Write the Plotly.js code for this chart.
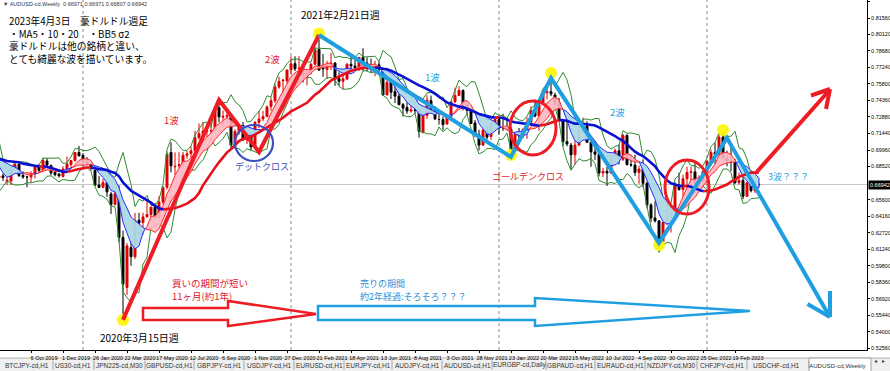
<!DOCTYPE html>
<html><head><meta charset="utf-8">
<script src="https://cdn.plot.ly/plotly-3.0.1.min.js"></script>
<style>html,body{margin:0;padding:0;background:#fff}#chart{width:890px;height:371px}</style>
</head><body><div id="chart"></div>
<script>
// ---------- DATA (AUDUSD weekly) ----------
const dates = [
'2019-05-05','2019-05-12','2019-05-19','2019-05-26','2019-06-02','2019-06-09','2019-06-16','2019-06-23','2019-06-30','2019-07-07','2019-07-14','2019-07-21','2019-07-28','2019-08-04','2019-08-11','2019-08-18','2019-08-25','2019-09-01','2019-09-08','2019-09-15','2019-09-22','2019-09-29','2019-10-06','2019-10-13','2019-10-20','2019-10-27','2019-11-03','2019-11-10','2019-11-17','2019-11-24','2019-12-01','2019-12-08','2019-12-15','2019-12-22','2019-12-29',
'2020-01-05','2020-01-12','2020-01-19','2020-01-26','2020-02-02','2020-02-09','2020-02-16','2020-02-23','2020-03-01','2020-03-08','2020-03-15','2020-03-22','2020-03-29','2020-04-05','2020-04-12','2020-04-19','2020-04-26','2020-05-03','2020-05-10','2020-05-17','2020-05-24','2020-05-31','2020-06-07','2020-06-14','2020-06-21','2020-06-28','2020-07-05','2020-07-12','2020-07-19','2020-07-26','2020-08-02','2020-08-09','2020-08-16','2020-08-23','2020-08-30','2020-09-06','2020-09-13','2020-09-20','2020-09-27','2020-10-04','2020-10-11','2020-10-18','2020-10-25','2020-11-01','2020-11-08','2020-11-15','2020-11-22','2020-11-29','2020-12-06','2020-12-13','2020-12-20','2020-12-27',
'2021-01-03','2021-01-10','2021-01-17','2021-01-24','2021-01-31','2021-02-07','2021-02-14','2021-02-21','2021-02-28','2021-03-07','2021-03-14','2021-03-21','2021-03-28','2021-04-04','2021-04-11','2021-04-18','2021-04-25','2021-05-02','2021-05-09','2021-05-16','2021-05-23','2021-05-30','2021-06-06','2021-06-13','2021-06-20','2021-06-27','2021-07-04','2021-07-11','2021-07-18','2021-07-25','2021-08-01','2021-08-08','2021-08-15','2021-08-22','2021-08-29','2021-09-05','2021-09-12','2021-09-19','2021-09-26','2021-10-03','2021-10-10','2021-10-17','2021-10-24','2021-10-31','2021-11-07','2021-11-14','2021-11-21','2021-11-28','2021-12-05','2021-12-12','2021-12-19','2021-12-26',
'2022-01-02','2022-01-09','2022-01-16','2022-01-23','2022-01-30','2022-02-06','2022-02-13','2022-02-20','2022-02-27','2022-03-06','2022-03-13','2022-03-20','2022-03-27','2022-04-03','2022-04-10','2022-04-17','2022-04-24','2022-05-01','2022-05-08','2022-05-15','2022-05-22','2022-05-29','2022-06-05','2022-06-12','2022-06-19','2022-06-26','2022-07-03','2022-07-10','2022-07-17','2022-07-24','2022-07-31','2022-08-07','2022-08-14','2022-08-21','2022-08-28','2022-09-04','2022-09-11','2022-09-18','2022-09-25','2022-10-02','2022-10-09','2022-10-16','2022-10-23','2022-10-30','2022-11-06','2022-11-13','2022-11-20','2022-11-27','2022-12-04','2022-12-11','2022-12-18','2022-12-25',
'2023-01-01','2023-01-08','2023-01-15','2023-01-22','2023-01-29','2023-02-05','2023-02-12','2023-02-19','2023-02-26','2023-03-05','2023-03-12','2023-03-19','2023-03-26','2023-04-02'];

const open = [
0.7002,0.6995,0.6880,0.6930,0.6945,0.6990,0.6868,0.6940,0.7030,0.6975,0.7020,0.7040,0.6915,0.6780,0.6755,0.6770,0.6720,0.6725,0.6835,0.6870,0.6775,0.6760,0.6760,0.6790,0.6855,0.6820,0.6900,0.6860,0.6800,0.6785,0.6765,0.6830,0.6870,0.6905,0.6975,
0.6950,0.6895,0.6880,0.6820,0.6690,0.6670,0.6710,0.6610,0.6520,0.6600,0.6230,0.5790,0.6140,0.6060,0.6380,0.6360,0.6410,0.6430,0.6495,0.6400,0.6540,0.6670,0.6975,0.6850,0.6860,0.6870,0.6950,0.6965,0.6990,0.7105,0.7140,0.7160,0.7165,0.7170,0.7367,0.7285,0.7290,0.7300,0.7040,0.7160,0.7210,0.7085,0.7135,0.7020,0.7240,0.7270,0.7290,0.7380,0.7430,0.7550,0.7605,0.7605,
0.7700,0.7755,0.7710,0.7715,0.7640,0.7680,0.7750,0.7880,0.7720,0.7705,0.7750,0.7760,0.7625,0.7600,0.7620,0.7750,0.7735,0.7720,0.7810,0.7760,0.7740,0.7710,0.7745,0.7710,0.7480,0.7595,0.7510,0.7470,0.7395,0.7370,0.7340,0.7350,0.7345,0.7150,0.7300,0.7430,0.7355,0.7265,0.7265,0.7225,0.7290,0.7420,0.7475,0.7520,0.7400,0.7345,0.7235,0.7130,0.7040,0.7170,0.7115,0.7230,
0.7265,0.7190,0.7190,0.7180,0.7000,0.7135,0.7120,0.7180,0.7240,0.7340,0.7295,0.7400,0.7500,0.7510,0.7480,0.7415,0.7265,0.7070,0.7040,0.6955,0.7040,0.7165,0.7210,0.7065,0.6980,0.6960,0.6795,0.6810,0.6795,0.6935,0.6990,0.6915,0.7125,0.6870,0.6865,0.6800,0.6830,0.6705,0.6515,0.6400,0.6375,0.6190,0.6360,0.6410,0.6445,0.6690,0.6650,0.6745,0.6800,0.6805,0.6705,0.6725,
0.6810,0.6900,0.6975,0.6960,0.7110,0.6925,0.6905,0.6890,0.6710,0.6730,0.6590,0.6710,0.6640,0.66971];

const high = [
0.7035,0.7000,0.6942,0.6960,0.7020,0.6992,0.6950,0.7030,0.7048,0.7027,0.7082,0.7045,0.6935,0.6810,0.6816,0.6790,0.6760,0.6835,0.6895,0.6895,0.6810,0.6770,0.6810,0.6860,0.6870,0.6930,0.6925,0.6870,0.6835,0.6797,0.6855,0.6940,0.6905,0.6980,0.7032,
0.6970,0.6935,0.6880,0.6820,0.6770,0.6743,0.6720,0.6630,0.6660,0.6686,0.6290,0.6180,0.6190,0.6445,0.6446,0.6446,0.6570,0.6500,0.6530,0.6590,0.6680,0.6985,0.7064,0.6976,0.6977,0.6980,0.6990,0.7030,0.7165,0.7230,0.7243,0.7230,0.7275,0.7375,0.7413,0.7345,0.7345,0.7310,0.7180,0.7210,0.7242,0.7158,0.7150,0.7250,0.7340,0.7340,0.7390,0.7460,0.7580,0.7640,0.7620,0.7700,
0.7820,0.7820,0.7820,0.7735,0.7700,0.7760,0.7900,0.8007,0.7840,0.7780,0.7850,0.7770,0.7680,0.7690,0.7760,0.7815,0.7820,0.7810,0.7891,0.7810,0.7800,0.7780,0.7775,0.7720,0.7615,0.7600,0.7600,0.7510,0.7410,0.7425,0.7425,0.7375,0.7350,0.7320,0.7478,0.7475,0.7380,0.7320,0.7290,0.7310,0.7425,0.7545,0.7556,0.7530,0.7425,0.7370,0.7260,0.7175,0.7185,0.7220,0.7235,0.7277,
0.7280,0.7315,0.7275,0.7200,0.7140,0.7190,0.7180,0.7285,0.7380,0.7440,0.7420,0.7530,0.7540,0.7661,0.7500,0.7455,0.7270,0.7265,0.7060,0.7075,0.7170,0.7283,0.7250,0.7070,0.7070,0.6965,0.6840,0.6850,0.6960,0.7010,0.7045,0.7137,0.7135,0.6955,0.6955,0.6860,0.6915,0.6720,0.6530,0.6547,0.6380,0.6360,0.6520,0.6460,0.6715,0.6798,0.6780,0.6850,0.6850,0.6893,0.6775,0.6800,
0.6905,0.7000,0.7060,0.7142,0.7158,0.6990,0.7030,0.6920,0.6800,0.6785,0.6715,0.6760,0.6740,0.66971];

const low = [
0.6965,0.6865,0.6865,0.6908,0.6940,0.6864,0.6832,0.6935,0.6960,0.6912,0.6985,0.6910,0.6775,0.6677,0.6740,0.6726,0.6690,0.6688,0.6832,0.6760,0.6744,0.6670,0.6710,0.6746,0.6803,0.6810,0.6850,0.6775,0.6765,0.6755,0.6755,0.6810,0.6840,0.6895,0.6940,
0.6850,0.6871,0.6815,0.6680,0.6662,0.6660,0.6585,0.6435,0.6510,0.6186,0.5506,0.5725,0.5980,0.6040,0.6255,0.6254,0.6405,0.6371,0.6400,0.6400,0.6520,0.6650,0.6800,0.6776,0.6835,0.6833,0.6920,0.6920,0.6985,0.7090,0.7110,0.7110,0.7135,0.7160,0.7240,0.7190,0.7245,0.7006,0.7030,0.7130,0.7080,0.7050,0.6991,0.7000,0.7190,0.7250,0.7290,0.7340,0.7410,0.7535,0.7460,0.7580,
0.7660,0.7690,0.7690,0.7590,0.7565,0.7660,0.7740,0.7690,0.7640,0.7620,0.7700,0.7560,0.7560,0.7530,0.7610,0.7700,0.7700,0.7690,0.7690,0.7690,0.7680,0.7645,0.7690,0.7477,0.7480,0.7445,0.7410,0.7390,0.7290,0.7315,0.7325,0.7315,0.7106,0.7145,0.7270,0.7350,0.7260,0.7220,0.7170,0.7220,0.7270,0.7410,0.7470,0.7345,0.7300,0.7230,0.7110,0.6993,0.7035,0.7090,0.7085,0.7210,
0.7130,0.7165,0.7170,0.6967,0.6990,0.7080,0.7100,0.7095,0.7230,0.7285,0.7165,0.7390,0.7440,0.7470,0.7380,0.7250,0.7030,0.7030,0.6829,0.6870,0.7030,0.7140,0.7060,0.6850,0.6910,0.6765,0.6760,0.6681,0.6790,0.6870,0.6870,0.6900,0.6860,0.6850,0.6770,0.6700,0.6670,0.6485,0.6363,0.6360,0.6170,0.6185,0.6340,0.6272,0.6385,0.6640,0.6585,0.6640,0.6670,0.6650,0.6630,0.6690,
0.6690,0.6870,0.6875,0.6955,0.6920,0.6855,0.6810,0.6700,0.6695,0.6564,0.6590,0.6625,0.6620,0.66807];

const close = [
0.7000,0.6866,0.6925,0.6941,0.6990,0.6865,0.6935,0.7020,0.6995,0.7020,0.7045,0.6915,0.6780,0.6760,0.6770,0.6755,0.6732,0.6830,0.6870,0.6774,0.6760,0.6760,0.6790,0.6853,0.6817,0.6905,0.6865,0.6795,0.6780,0.6770,0.6830,0.6875,0.6905,0.6975,0.6946,
0.6896,0.6872,0.6840,0.6688,0.6668,0.6712,0.6629,0.6518,0.6615,0.6230,0.5820,0.6155,0.6060,0.6378,0.6355,0.6410,0.6430,0.6495,0.6400,0.6540,0.6667,0.6960,0.6858,0.6853,0.6868,0.6951,0.6963,0.6990,0.7105,0.7141,0.7163,0.7165,0.7165,0.7367,0.7288,0.7293,0.7300,0.7040,0.7160,0.7210,0.7085,0.7135,0.7025,0.7240,0.7270,0.7290,0.7375,0.7430,0.7550,0.7600,0.7610,0.7700,
0.7755,0.7710,0.7715,0.7650,0.7680,0.7750,0.7877,0.7700,0.7710,0.7750,0.7760,0.7620,0.7600,0.7622,0.7750,0.7735,0.7720,0.7810,0.7760,0.7740,0.7705,0.7745,0.7705,0.7480,0.7590,0.7505,0.7470,0.7395,0.7365,0.7340,0.7350,0.7345,0.7160,0.7305,0.7435,0.7355,0.7270,0.7265,0.7220,0.7290,0.7420,0.7475,0.7520,0.7400,0.7345,0.7230,0.7130,0.7040,0.7170,0.7110,0.7230,0.7265,
0.7190,0.7190,0.7180,0.7000,0.7135,0.7120,0.7180,0.7240,0.7340,0.7295,0.7400,0.7500,0.7510,0.7490,0.7415,0.7265,0.7070,0.7050,0.6955,0.7040,0.7165,0.7210,0.7065,0.6980,0.6960,0.6795,0.6810,0.6795,0.6935,0.6990,0.6915,0.7125,0.6870,0.6865,0.6800,0.6830,0.6705,0.6515,0.6400,0.6375,0.6190,0.6360,0.6410,0.6445,0.6690,0.6650,0.6745,0.6800,0.6805,0.6705,0.6725,0.6810,
0.6900,0.6975,0.6960,0.7110,0.6925,0.6905,0.6890,0.6710,0.6730,0.6590,0.6710,0.6640,0.6690,0.66942];

// wave lines and marked points (hand-drawn on the original chart)
const redWaveDates  = ['2020-03-15','2020-08-30','2020-11-08','2021-02-21'];
const redWavePrices = [0.5506, 0.7436, 0.6980, 0.8007];
const blueWaveDates  = ['2021-02-21','2022-01-23','2022-04-03','2022-10-09','2023-02-05','2023-08-04'];
const blueWavePrices = [0.8007, 0.6936, 0.7629, 0.6181, 0.7102, 0.5531];
const redArrowDates  = ['2023-03-29','2023-08-02'];
const redArrowPrices = [0.6804, 0.7515];
const pivotDates  = ['2020-03-15','2021-02-21','2022-01-23','2022-04-03','2022-10-09','2023-01-29'];
const pivotPrices = [0.5505, 0.8020, 0.6953, 0.7673, 0.6163, 0.7173];

const xTickDates = ['2019-08-11','2019-10-06','2019-12-01','2020-01-26','2020-03-22','2020-05-17','2020-07-12','2020-09-06','2020-11-01','2020-12-27','2021-02-21','2021-04-18','2021-06-13','2021-08-08','2021-10-03','2021-11-28','2022-01-23','2022-03-20','2022-05-15','2022-07-10','2022-09-04','2022-10-30','2022-12-25','2023-02-19'];
const yTickVals = [0.83000,0.81560,0.80120,0.78680,0.77240,0.75800,0.74360,0.72880,0.71440,0.69960,0.68520,0.65600,0.64160,0.62720,0.61240,0.59800,0.58360,0.56920,0.55440,0.54000,0.52560];
const yTickText = ['0.83000','0.81560','0.80120','0.78680','0.77240','0.75800','0.74360','0.72880','0.71440','0.69960','0.68520','0.65600','0.64160','0.62720','0.61240','0.59800','0.58360','0.56920','0.55440','0.54000','0.52560'];
const lastPrice = 0.66942;
const yearStarts = ['2020-01-05','2021-01-03','2022-01-02','2023-01-01'];
const noteLines = ['2023年4月3日　豪ドルドル週足','・MA5・10・20　・BB5 σ2','豪ドルドルは他の銘柄と違い、','とても綺麗な波を描いています。'];
const tabLabels = ['BTCJPY-cd,H1','US30-cd,H1','JPN225-cd,M30','GBPUSD-cd,H1','GBPJPY-cd,H1','USDJPY-cd,H1','EURUSD-cd,H1','EURJPY-cd,H1','AUDJPY-cd,H1','AUDUSD-cd,H1','EURGBP-cd,Daily','GBPAUD-cd,H1','EURAUD-cd,H1','NZDJPY-cd,M30','CHFJPY-cd,H1','USDCHF-cd,H1','AUDUSD-cd,Weekly'];

// ---------- indicators (MA5/10/20, BB 5 2σ) computed from closes ----------
const tms = dates.map(d => Date.parse(d + 'T00:00:00Z'));
function sma(a, n){ return a.map((v,i)=>{ const s=a.slice(Math.max(0,i-n+1),i+1); return s.reduce((p,c)=>p+c,0)/s.length; }); }
function boll(a, n, k){ const up=[], lo=[]; a.forEach((v,i)=>{ const s=a.slice(Math.max(0,i-n+1),i+1); const m=s.reduce((p,c)=>p+c,0)/s.length; const sd=Math.sqrt(s.reduce((p,c)=>p+(c-m)*(c-m),0)/s.length); up.push(m+k*sd); lo.push(m-k*sd); }); return {up, lo}; }
const ma5 = sma(close,5), ma10 = sma(close,10), ma20 = sma(close,20);
const bb = boll(close,5,2);

function cloud(x, a, b){
  const pos={x:[],y:[]}, neg={x:[],y:[]};
  let up=[[x[0],a[0]]], lo=[[x[0],b[0]]], s=a[0]>=b[0];
  const flush = sg => { const t = sg?pos:neg; up.concat(lo.slice().reverse()).forEach(p=>{t.x.push(p[0]); t.y.push(p[1]);}); t.x.push(null); t.y.push(null); };
  for (let i=1;i<x.length;i++){
    const si = a[i]>=b[i];
    if (si===s){ up.push([x[i],a[i]]); lo.push([x[i],b[i]]); }
    else {
      const d0=a[i-1]-b[i-1], d1=a[i]-b[i], t=d0/(d0-d1);
      const cx=x[i-1]+t*(x[i]-x[i-1]), cy=a[i-1]+t*(a[i]-a[i-1]);
      up.push([cx,cy]); lo.push([cx,cy]); flush(s);
      up=[[cx,cy],[x[i],a[i]]]; lo=[[cx,cy],[x[i],b[i]]]; s=si;
    }
  }
  flush(s); return {pos,neg};
}
function slopeSplit(x, y){
  const r={x:[],y:[]}, b={x:[],y:[]}; let prev=null;
  for (let i=1;i<x.length;i++){
    const upw = y[i]>=y[i-1], cur = upw?r:b;
    if (prev!==upw){ if (prev!==null){ const o = upw?b:r; o.x.push(null); o.y.push(null);} cur.x.push(x[i-1]); cur.y.push(y[i-1]); }
    cur.x.push(x[i]); cur.y.push(y[i]); prev=upw;
  }
  return {r,b};
}
const cl = cloud(tms, ma5, ma10);
const m20 = slopeSplit(tms, ma20);

const RED='#ee1c24', LBLUE='#1f9fe2';
const traces = [
  {type:'scatter', mode:'lines', x:tms, y:bb.up, line:{color:'#2e8b2e', width:1}, hoverinfo:'skip'},
  {type:'scatter', mode:'lines', x:tms, y:bb.lo, line:{color:'#2e8b2e', width:1}, hoverinfo:'skip'},
  {type:'scatter', mode:'lines', x:cl.pos.x, y:cl.pos.y, fill:'toself', fillcolor:'rgba(255,182,193,0.9)', line:{color:'#ff2a2a', width:1}, hoverinfo:'skip'},
  {type:'scatter', mode:'lines', x:cl.neg.x, y:cl.neg.y, fill:'toself', fillcolor:'rgba(173,216,230,0.95)', line:{color:'#2a2aff', width:1}, hoverinfo:'skip'},
  {type:'candlestick', x:dates, open:open, high:high, low:low, close:close,
   increasing:{line:{color:'#e00000', width:1}, fillcolor:'#e00000'},
   decreasing:{line:{color:'#000000', width:1}, fillcolor:'#000000'}, whiskerwidth:0, hoverinfo:'skip'},
  {type:'scatter', mode:'lines', x:m20.r.x, y:m20.r.y, line:{color:'#e8101a', width:2.6}, hoverinfo:'skip'},
  {type:'scatter', mode:'lines', x:m20.b.x, y:m20.b.y, line:{color:'#0a10d0', width:2.6}, hoverinfo:'skip'},
  {type:'scatter', mode:'markers', x:pivotDates, y:pivotPrices, marker:{size:12, color:'rgba(255,245,0,0.9)', line:{width:0}}, hoverinfo:'skip'},
  {type:'scatter', mode:'lines', x:redWaveDates, y:redWavePrices, line:{color:RED, width:4}, hoverinfo:'skip'},
  {type:'scatter', mode:'lines', x:blueWaveDates, y:blueWavePrices, line:{color:LBLUE, width:4}, hoverinfo:'skip'},
  {type:'scatter', mode:'lines', x:redArrowDates, y:redArrowPrices, line:{color:RED, width:4}, hoverinfo:'skip'}
];

// ---------- layout helpers (pixel -> paper) ----------
const PW=867, PH=350, WEEK=7*86400000;
const X = p => p/PW, Y = p => 1 - p/PH;
const xAt = p => Date.parse('2023-02-19T00:00:00Z') + (p-735)/4*WEEK;
const JP = 'Noto Sans CJK JP', LAT = 'Liberation Sans, Arial, sans-serif';
function txt(text, x, y, color, size, anchor){ return {xref:'paper', yref:'paper', x:X(x), y:Y(y), text:text, showarrow:false, xanchor:anchor||'left', yanchor:'middle', borderpad:0, font:{family:JP, size:size, color:color}}; }
function ln(x0,y0,x1,y1,color,w,layer){ return {type:'line', xref:'paper', yref:'paper', x0:X(x0), y0:Y(y0), x1:X(x1), y1:Y(y1), layer:layer||'above', line:{color:color, width:w}}; }
function poly(pts,color,w){ return {type:'path', xref:'paper', yref:'paper', path:'M'+pts.map(p=>X(p[0])+','+Y(p[1])).join(' L')+' Z', line:{color:color, width:w}, fillcolor:'rgba(0,0,0,0)'}; }
function ell(cx,cy,rx,ry,color,w){ return {type:'circle', xref:'paper', yref:'paper', x0:X(cx-rx), x1:X(cx+rx), y0:Y(cy+ry), y1:Y(cy-ry), line:{color:color, width:w}}; }

const shapes = [];
// tab bar (drawn below so the axis labels stay visible)
shapes.push({type:'rect', xref:'paper', yref:'paper', x0:0, x1:X(890), y0:Y(372), y1:Y(358), layer:'below', fillcolor:'#f0f0f0', line:{width:0}});
shapes.push(ln(0,358,890,358,'#b4b4b4',1,'below'));
[53,94,145,194,244,294,344,392,442,492,546,595,645,697,747,809].forEach(s=>shapes.push(ln(s,360.5,s,369.5,'#a0a0a0',1,'below')));
shapes.push({type:'rect', xref:'paper', yref:'paper', x0:X(809), x1:X(871), y0:Y(372), y1:Y(358), layer:'below', fillcolor:'#ffffff', line:{color:'#a0a0a0', width:1}});
yearStarts.forEach(d => shapes.push({type:'line', xref:'x', yref:'paper', x0:d, x1:d, y0:0, y1:1, layer:'below', line:{color:'#8a8a8a', width:1, dash:'dot'}}));
shapes.push({type:'line', xref:'paper', yref:'y', x0:0, x1:1, y0:lastPrice, y1:lastPrice, layer:'below', line:{color:'#c8c8c8', width:1}});
shapes.push(ell(254,143,19,18,'#3b4fc0',2.2));
shapes.push(ell(533,128,23,27,RED,3));
shapes.push(ell(687,187,22,27,RED,3));
shapes.push(poly([[143,308],[228,308],[228,301],[316,314],[228,326],[228,320],[143,320]],RED,2.5));
shapes.push(poly([[318,306],[535,306],[535,298],[750,311],[535,326],[535,320],[318,320]],LBLUE,2.5));
shapes.push(ln(830,89,811,95.5,RED,4));
shapes.push(ln(830,89,826,109,RED,4));
shapes.push(ln(830,317,807.5,304,LBLUE,4));
shapes.push(ln(830,317,830,291,LBLUE,4));

const tabCenters = [27,73,119,169,219,269,319,368,417,467,519,570,620,671,722,776,838];
const annotations = [
  {xref:'paper', yref:'paper', x:X(8), y:Y(13), text:noteLines.join('<br>'), showarrow:false, xanchor:'left', yanchor:'top', align:'left', borderpad:0, font:{family:JP, size:9.7, color:'#000'}},
  txt('2021年2月21日週', 300, 14.5, '#000', 10),
  txt('2波', 272, 58.5, '#e0202a', 9.5, 'center'),
  txt('1波', 171, 120, '#e0202a', 9.5, 'center'),
  txt('デットクロス', 262, 167, '#3c4fb4', 9, 'center'),
  txt('1波', 432, 77, LBLUE, 9.5, 'center'),
  txt('2波', 617, 112, LBLUE, 9.5, 'center'),
  txt('ゴールデンクロス', 528, 176, '#e0202a', 9, 'center'),
  txt('3波？？？', 767, 177, LBLUE, 9),
  txt('買いの期間が短い', 171, 283, '#e0202a', 9.5),
  txt('11ヶ月(約1年)', 171, 295.5, '#e0202a', 9.5),
  txt('売りの期間', 359, 283, '#2a8fd8', 9),
  txt('約2年経過:そろそろ？？？', 359, 296, '#2a8fd8', 9),
  txt('2020年3月15日週', 99, 337, '#000', 10),
  {xref:'paper', yref:'paper', x:X(2), y:Y(3.5), text:'▼ AUDUSD-cd,Weekly  0.66971 0.66971 0.66807 0.66942', showarrow:false, xanchor:'left', yanchor:'middle', borderpad:0, font:{family:LAT, size:5.5, color:'#333'}},
  {xref:'paper', yref:'y', x:1, y:lastPrice, text:'0.66942', showarrow:false, xanchor:'left', yanchor:'middle', xshift:0.5, bgcolor:'#000', borderpad:1, font:{family:LAT, size:5.5, color:'#fff'}},
  {xref:'paper', yref:'paper', x:X(878), y:Y(365), text:'◂', showarrow:false, borderpad:0, font:{family:'DejaVu Sans', size:6, color:'#444'}},
  {xref:'paper', yref:'paper', x:X(886), y:Y(365), text:'▸', showarrow:false, borderpad:0, font:{family:'DejaVu Sans', size:6, color:'#444'}}
];
tabLabels.forEach((t,i)=>annotations.push({xref:'paper', yref:'paper', x:X(tabCenters[i]), y:Y(365), text:t, showarrow:false, xanchor:'center', yanchor:'middle', borderpad:0, font:{family:LAT, size:(i===16?6.2:6.5), color:'#333'}}));

const layout = {
  width:890, height:371, margin:{l:0, r:23, t:0, b:21}, showlegend:false,
  paper_bgcolor:'#fff', plot_bgcolor:'#fff',
  xaxis:{type:'date', range:[xAt(0), xAt(867)], tickmode:'array', tickvals:xTickDates, tickformat:'%-d %b %Y', tickangle:0,
         ticklabelshift:13, ticklabelstandoff:0, ticks:'outside', ticklen:2, tickcolor:'#000', showgrid:false, zeroline:false,
         showline:true, linecolor:'#000', linewidth:1, tickfont:{family:LAT, size:5.5, color:'#000'},
         rangeslider:{visible:false}, fixedrange:true, automargin:false},
  yaxis:{side:'right', range:[0.52411, 0.83141], tickmode:'array', tickvals:yTickVals, ticktext:yTickText,
         ticks:'outside', ticklen:2, tickcolor:'#000', showgrid:false, zeroline:false, showline:true, linecolor:'#000', linewidth:1,
         tickfont:{family:LAT, size:5.5, color:'#000'}, fixedrange:true, automargin:false},
  shapes:shapes, annotations:annotations, hovermode:false
};
Plotly.newPlot('chart', traces, layout, {displayModeBar:false, staticPlot:true});
</script></body></html>
